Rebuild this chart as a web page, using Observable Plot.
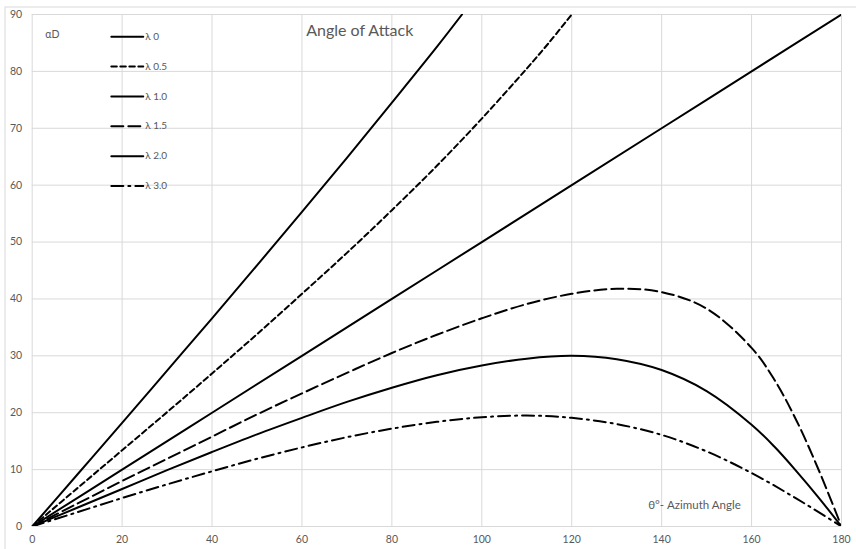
<!DOCTYPE html>
<html><head><meta charset="utf-8">
<script src="https://cdn.jsdelivr.net/npm/d3@7"></script>
<script src="https://cdn.jsdelivr.net/npm/@observablehq/plot@0.6"></script>
<style>
body{margin:0;background:#fff;}
#chart{position:relative;width:856px;height:549px;overflow:hidden;}
</style>
</head><body><div id="chart"></div>
<script>
// ---- data ----
const xTicks = [0,20,40,60,80,100,120,140,160,180];
const yTicks = [0,10,20,30,40,50,60,70,80,90];
const seriesNames = ["λ 0","λ 0.5","λ 1.0","λ 1.5","λ 2.0","λ 3.0"];

const l0X  = [0,10,20,30,40,50,60,70,80,90,95.6];
const l0Y  = [0,9.1,18.2,27.4,36.6,45.9,55.3,64.8,74.5,84.3,90];

const l05X = [0,10,20,30,40,50,60,70,80,90,100,110,115,120];
const l05Y = [0,6.7,13.4,20.1,26.9,33.8,40.9,48.1,55.6,63.4,71.7,80.5,85.1,90];

const l1X  = [0,20,40,60,80,100,120,140,160,180];
const l1Y  = [0,10,20,30,40,50,60,70,80,90];

const l15X = [0,10,20,30,40,50,60,70,80,90,100,110,120,130,140,150,160,165,170,175,180];
const l15Y = [0,4.0,8.0,11.9,15.8,19.7,23.4,27.0,30.5,33.7,36.6,39.1,40.9,41.8,41.2,38.3,31.4,25.9,18.6,9.8,0];

const l2X  = [0,10,20,30,40,50,60,70,80,90,100,110,120,130,140,150,160,165,170,175,180];
const l2Y  = [0,3.3,6.6,9.9,13.1,16.2,19.1,21.9,24.4,26.6,28.3,29.5,30.0,29.4,27.5,23.8,17.9,14.1,9.7,5.0,0];

const l3X  = [0,10,20,30,40,50,60,70,80,90,100,110,120,130,140,150,160,170,180];
const l3Y  = [0,2.5,5.0,7.4,9.7,11.9,13.9,15.7,17.2,18.4,19.2,19.5,19.1,18.0,16.1,13.2,9.4,4.9,0];

// ---- styling ----
const dashes = [null, "5.5,3.5", null, "12,5", null, "12,5,2,5"];
const seriesX = [l0X,l05X,l1X,l15X,l2X,l3X];
const seriesY = [l0Y,l05Y,l1Y,l15Y,l2Y,l3Y];
const grey = "#595959";
const font = "Lato, 'Open Sans', sans-serif";

const marks = [
  Plot.gridX(xTicks, {stroke:"#d9d9d9", strokeOpacity:1}),
  Plot.gridY(yTicks, {stroke:"#d9d9d9", strokeOpacity:1}),
  Plot.axisX(xTicks, {tickSize:0, tickPadding:9, fill:grey, fontSize:10.5, label:null}),
  Plot.axisY(yTicks, {tickSize:0, tickPadding:10, fill:grey, fontSize:10.5, label:null}),
];

seriesNames.forEach((name,i)=>{
  const rows = seriesX[i].map((x,j)=>({x, y:seriesY[i][j]}));
  marks.push(Plot.line(rows, {x:"x", y:"y", stroke:"#000", strokeWidth:2,
    strokeDasharray: dashes[i] ?? undefined, curve:"catmull-rom", clip:true}));
});

// legend inside the plot (in data units)
const legX0 = 17.6, legX1 = 24.7, legTop = 86.1, legStep = 5.25;
seriesNames.forEach((name,i)=>{
  const y = legTop - i*legStep;
  marks.push(Plot.line([{x:legX0,y},{x:legX1,y}], {x:"x", y:"y", stroke:"#000", strokeWidth:2,
    strokeDasharray: dashes[i] ?? undefined}));
  marks.push(Plot.text([{x:legX1,y,t:name}], {x:"x", y:"y", text:"t", textAnchor:"start", dx:2,
    fill:grey, fontSize:10, fontFamily:font}));
});

marks.push(Plot.text(["αD"], {frameAnchor:"top-left", dx:13, dy:16, fill:grey, fontSize:10.5, fontFamily:font, textAnchor:"start"}));
marks.push(Plot.text(["Angle of Attack"], {frameAnchor:"top-left", dx:274, dy:10, fill:grey, fontSize:16, fontFamily:font, textAnchor:"start"}));
marks.push(Plot.text(["θ°- Azimuth Angle"], {frameAnchor:"bottom-left", dx:616, dy:-18, fill:grey, fontSize:11.5, fontFamily:font, textAnchor:"start"}));

const chart = Plot.plot({
  width:856, height:549,
  marginLeft:31.7, marginRight:15, marginTop:14, marginBottom:23,
  x:{domain:[0,180], axis:null, label:null},
  y:{domain:[0,90], axis:null, label:null},
  style:{fontFamily:font, background:"#fff", color:grey},
  marks
});
document.getElementById("chart").appendChild(chart);
// outer chart border
d3.select(chart).insert("rect", ":first-child")
  .attr("x",5).attr("y",7).attr("width",900).attr("height",700)
  .attr("fill","none").attr("stroke","#d9d9d9");
</script>
</body></html>
